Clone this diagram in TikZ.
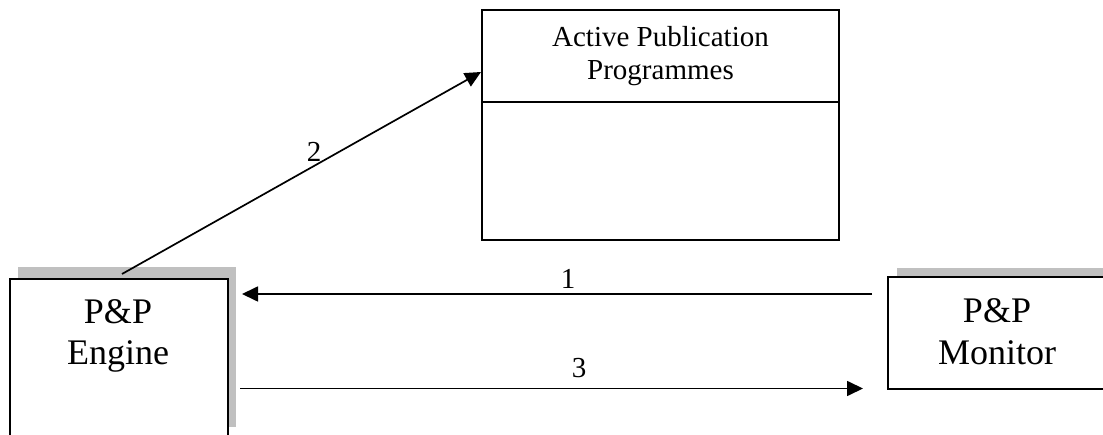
\documentclass[tikz,border=0pt]{standalone}
\usepackage{fontspec}
\setmainfont{Liberation Serif}
\usetikzlibrary{arrows.meta,calc}
\definecolor{shadowgray}{RGB}{192,192,192}
\tikzset{
  boxnode/.style={draw=black, line width=2pt, fill=white, rectangle, inner sep=0pt},
  bigtxt/.style={font=\fontsize{36}{41}\selectfont, inner sep=0pt, anchor=base},
  smalltxt/.style={font=\fontsize{29}{33}\selectfont, inner sep=0pt, anchor=base},
  arr/.style={draw=black, line width=1.7pt, -{Triangle[length=16pt,width=15pt]}},
}
\begin{document}
\begin{tikzpicture}[x=1pt,y=-1pt]
\useasboundingbox (0,0) rectangle (1103,435);
\clip (0,0) rectangle (1103,435);
% shadows
\fill[shadowgray] (18,267) rectangle (236,427);
\fill[shadowgray] (897,268) rectangle (1115,380);
% boxes
\node[boxnode, minimum width=218pt, minimum height=160pt] (eng) at (119,359) {};
\node[boxnode, minimum width=218pt, minimum height=112pt] (mon) at (997,333) {};
\node[boxnode, minimum width=357pt, minimum height=230pt] (app) at (660.5,125) {};
\draw[line width=2pt] (app.west |- 0,102) -- (app.east |- 0,102);
% texts
\node[smalltxt] (appt1) at (660.5,47) {Active Publication};
\node[smalltxt] (appt2) at (660.5,80) {Programmes};
\node[bigtxt] (engt1) at (118,324) {P\&P};
\node[bigtxt] (engt2) at (118,365) {Engine};
\node[bigtxt] (mont1) at (997,323) {P\&P};
\node[bigtxt] (mont2) at (997,365) {Monitor};
% connectors
\draw[arr] ($(eng.north)+(3,-4)$) -- ($(app.west)+(0,-53)$);
\draw[arr] ($(mon.west)+(-15,-39)$) -- ($(eng.east)+(13,-65)$);
\draw[arr] ($(eng.east)+(11,29.5)$) -- ($(mon.west)+(-24,55.5)$);
% labels
\node[smalltxt] (l1) at (568,289) {1};
\node[smalltxt] (l2) at (314,162) {2};
\node[smalltxt] (l3) at (579,378) {3};
\end{tikzpicture}
\end{document}
